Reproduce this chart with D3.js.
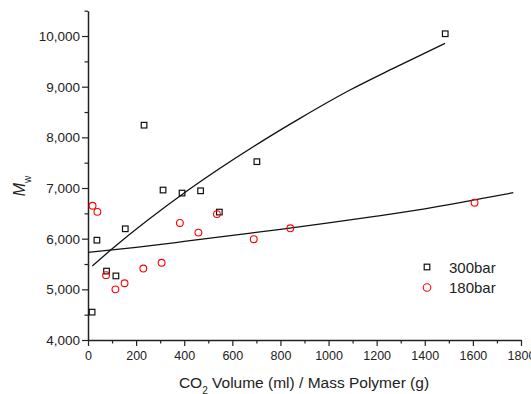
<!DOCTYPE html>
<meta charset="utf-8">
<style>
  body { margin: 0; background: #fff; }
  svg { font-family: "Liberation Sans", Arial, sans-serif; }
  .axis path, .axis line { stroke: #222; }
  .axis text { fill: #222; }
</style>
<svg width="531" height="394"></svg>
<script src="https://cdn.jsdelivr.net/npm/d3@7"></script>
<script>
// 300 bar samples: CO2 volume / polymer mass vs Mw
var x300 = [17, 37, 77, 116, 155, 233, 312, 391, 468, 546, 702, 1485];
var y300 = [4550, 5970, 5360, 5265, 6195, 8240, 6960, 6900, 6945, 6525, 7520, 10045];
// 180 bar samples
var x180 = [19, 39, 75, 114, 152, 230, 306, 382, 459, 536, 689, 841, 1607];
var y180 = [6650, 6530, 5280, 5000, 5120, 5410, 5525, 6310, 6120, 6485, 5990, 6205, 6710];
// fitted curves
var fit300x = [18, 98, 417, 736, 881, 1089, 1269, 1484];
var fit300y = [5461, 5790, 6960, 7961, 8375, 8934, 9362, 9855];
var fit180x = [0, 200, 400, 600, 800, 1000, 1200, 1400, 1600, 1768];
var fit180y = [5731, 5830, 5945, 6065, 6185, 6310, 6445, 6590, 6760, 6907];
var xTicks = [0, 200, 400, 600, 800, 1000, 1200, 1400, 1600, 1800];
var yTicks = [4000, 5000, 6000, 7000, 8000, 9000, 10000];
var legendNames = ["300bar", "180bar"];

var svg = d3.select("svg");
var x = d3.scaleLinear().domain([0, 1800]).range([88, 521]);
var y = d3.scaleLinear().domain([4000, 10500]).range([340, 10.7]);

// minor ticks
svg.append("g")
  .attr("class", "axis")
  .attr("transform", "translate(0,340)")
  .call(d3.axisBottom(x).tickValues(d3.range(100, 1800, 200)).tickSize(3.5).tickFormat("").tickSizeOuter(0))
  .call(g => g.select(".domain").remove());
svg.append("g")
  .attr("class", "axis")
  .attr("transform", "translate(88,0)")
  .call(d3.axisLeft(y).tickValues(d3.range(4500, 10600, 1000)).tickSize(3.5).tickFormat("").tickSizeOuter(0))
  .call(g => g.select(".domain").remove());

// major axes
var xa = svg.append("g")
  .attr("class", "axis")
  .attr("transform", "translate(0,340)")
  .call(d3.axisBottom(x).tickValues(xTicks).tickSize(6).tickSizeOuter(0).tickPadding(5).tickFormat(d3.format("d")));
xa.selectAll("text").style("font-size", "12.5px");
var ya = svg.append("g")
  .attr("class", "axis")
  .attr("transform", "translate(88,0)")
  .call(d3.axisLeft(y).tickValues(yTicks).tickSize(6).tickSizeOuter(0).tickPadding(2).tickFormat(d3.format(",")));
ya.selectAll("text").style("font-size", "13.5px");
svg.selectAll(".axis .domain").attr("stroke-width", 1.5);
svg.selectAll(".axis line").attr("stroke-width", 1.2);

// fit lines
var line = d3.line().curve(d3.curveMonotoneX)
  .x(function(d) { return x(d[0]); })
  .y(function(d) { return y(d[1]); });
svg.append("path")
  .datum(d3.zip(fit300x, fit300y))
  .attr("fill", "none").attr("stroke", "#111").attr("stroke-width", 1.3)
  .attr("d", line);
svg.append("path")
  .datum(d3.zip(fit180x, fit180y))
  .attr("fill", "none").attr("stroke", "#111").attr("stroke-width", 1.3)
  .attr("d", line);

// markers
var sq = 5.6;
svg.append("g").selectAll("rect")
  .data(d3.zip(x300, y300))
  .join("rect")
  .attr("x", function(d) { return x(d[0]) - sq / 2; })
  .attr("y", function(d) { return y(d[1]) - sq / 2; })
  .attr("width", sq).attr("height", sq)
  .attr("fill", "none").attr("stroke", "#111").attr("stroke-width", 1.2);
svg.append("g").selectAll("circle")
  .data(d3.zip(x180, y180))
  .join("circle")
  .attr("cx", function(d) { return x(d[0]); })
  .attr("cy", function(d) { return y(d[1]); })
  .attr("r", 3.4)
  .attr("fill", "none").attr("stroke", "#f00").attr("stroke-width", 1.1);

// legend
var lg = svg.append("g").attr("transform", "translate(427,267)");
lg.append("rect").attr("x", -sq / 2).attr("y", -sq / 2).attr("width", sq).attr("height", sq)
  .attr("fill", "none").attr("stroke", "#111").attr("stroke-width", 1.2);
lg.append("circle").attr("cx", 0).attr("cy", 20.5).attr("r", 3.8)
  .attr("fill", "none").attr("stroke", "#f00").attr("stroke-width", 1.1);
lg.selectAll("text").data(legendNames).join("text")
  .attr("x", 22).attr("y", function(d, i) { return 6 + i * 19.5; })
  .style("font-size", "15px").attr("fill", "#222")
  .text(function(d) { return d; });

// axis titles
var xt = svg.append("text")
  .attr("x", 304).attr("y", 388)
  .attr("text-anchor", "middle").style("font-size", "15.5px").attr("fill", "#222");
xt.append("tspan").text("CO");
xt.append("tspan").attr("baseline-shift", "sub").style("font-size", "10px").text("2");
xt.append("tspan").text(" Volume (ml) / Mass Polymer (g)");

var yt = svg.append("text")
  .attr("transform", "translate(25,186) rotate(-90)")
  .attr("text-anchor", "middle").style("font-size", "16px").attr("fill", "#222");
yt.append("tspan").style("font-style", "italic").text("M");
yt.append("tspan").attr("baseline-shift", "sub").style("font-size", "10px").text("w");
</script>
